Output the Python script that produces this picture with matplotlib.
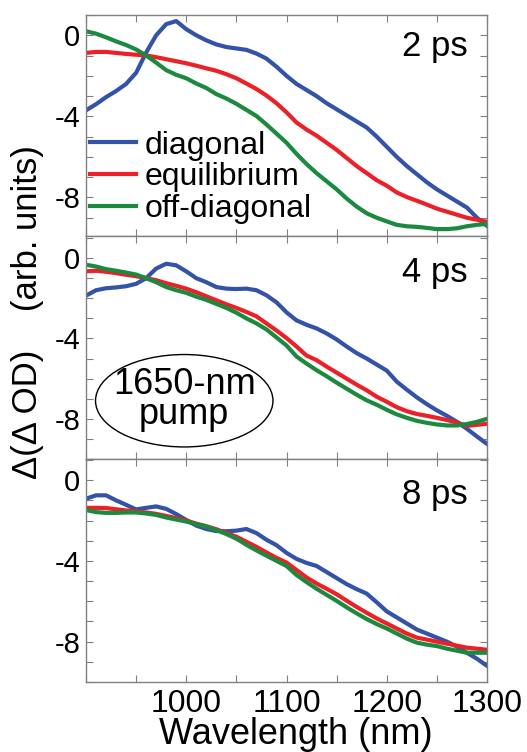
import matplotlib
matplotlib.use("Agg")
import matplotlib.pyplot as plt
from matplotlib.patches import Ellipse
from matplotlib.ticker import MultipleLocator, FuncFormatter
import numpy as np

plt.rcParams['font.family'] = ['Liberation Sans', 'DejaVu Sans']
plt.rcParams['axes.unicode_minus'] = False

wavelength = list(range(900, 1301, 10))

diag_2ps = [-3.7, -3.4, -3.05, -2.75, -2.4, -1.85, -0.85, 0.0, 0.55, 0.7, 0.3, 0.0, -0.25, -0.45,
            -0.58, -0.65, -0.72, -0.9, -1.15, -1.55, -2.0, -2.4, -2.7, -3.0, -3.35, -3.65, -3.95,
            -4.25, -4.55, -5.0, -5.5, -6.0, -6.45, -6.85, -7.25, -7.6, -7.9, -8.2, -8.5, -9.0, -9.4]
equil_2ps = [-0.87, -0.82, -0.82, -0.87, -0.92, -0.96, -1.0, -1.08, -1.18, -1.28, -1.38, -1.5, -1.63,
             -1.75, -1.92, -2.12, -2.38, -2.65, -2.97, -3.35, -3.8, -4.3, -4.65, -4.95, -5.3, -5.65,
             -6.05, -6.45, -6.8, -7.15, -7.42, -7.75, -7.98, -8.16, -8.35, -8.55, -8.7, -8.85, -9.0,
             -9.1, -9.2]
off_2ps = [0.2, 0.08, -0.1, -0.3, -0.48, -0.7, -1.0, -1.35, -1.72, -1.95, -2.12, -2.38, -2.6, -2.9,
           -3.12, -3.38, -3.68, -3.98, -4.4, -4.85, -5.3, -5.85, -6.35, -6.8, -7.2, -7.6, -8.05, -8.45,
           -8.78, -9.0, -9.18, -9.35, -9.42, -9.45, -9.5, -9.56, -9.56, -9.52, -9.42, -9.35, -9.3]

diag_4ps = [-1.87, -1.6, -1.5, -1.46, -1.4, -1.28, -1.0, -0.52, -0.28, -0.36, -0.66, -1.0, -1.2, -1.44,
            -1.52, -1.54, -1.52, -1.6, -1.85, -2.2, -2.7, -3.1, -3.32, -3.5, -3.75, -4.05, -4.4, -4.73,
            -5.0, -5.3, -5.6, -6.15, -6.55, -6.93, -7.27, -7.58, -7.85, -8.15, -8.5, -8.88, -9.25]
equil_4ps = [-0.66, -0.63, -0.68, -0.75, -0.83, -0.9, -1.0, -1.1, -1.25, -1.38, -1.52, -1.7, -1.9, -2.1,
             -2.3, -2.48, -2.68, -2.9, -3.25, -3.6, -3.98, -4.4, -4.85, -5.08, -5.4, -5.7, -6.0, -6.3,
             -6.58, -6.9, -7.15, -7.42, -7.62, -7.76, -7.85, -7.95, -8.06, -8.18, -8.35, -8.3, -8.25]
off_4ps = [-0.33, -0.42, -0.55, -0.63, -0.72, -0.82, -1.0, -1.2, -1.44, -1.6, -1.73, -1.92, -2.08, -2.28,
           -2.48, -2.72, -3.0, -3.25, -3.55, -3.95, -4.35, -4.9, -5.25, -5.58, -5.88, -6.2, -6.5, -6.8,
           -7.08, -7.3, -7.55, -7.78, -7.95, -8.1, -8.2, -8.28, -8.33, -8.33, -8.26, -8.15, -8.0]

diag_8ps = [-0.92, -0.75, -0.75, -1.0, -1.22, -1.45, -1.37, -1.3, -1.42, -1.68, -1.97, -2.25, -2.42, -2.52,
            -2.53, -2.5, -2.42, -2.62, -2.95, -3.22, -3.6, -3.9, -4.1, -4.25, -4.55, -4.85, -5.15, -5.4,
            -5.62, -6.05, -6.5, -6.8, -7.1, -7.4, -7.6, -7.8, -8.0, -8.25, -8.55, -8.85, -9.2]
equil_8ps = [-1.37, -1.37, -1.38, -1.44, -1.5, -1.54, -1.6, -1.67, -1.77, -1.88, -2.0, -2.15, -2.28, -2.43,
             -2.62, -2.8, -3.05, -3.3, -3.58, -3.85, -4.08, -4.45, -4.82, -5.12, -5.38, -5.65, -5.97, -6.28,
             -6.57, -6.85, -7.1, -7.35, -7.6, -7.8, -7.9, -8.0, -8.1, -8.2, -8.3, -8.35, -8.4]
off_8ps = [-1.48, -1.58, -1.62, -1.62, -1.6, -1.6, -1.65, -1.72, -1.85, -1.95, -2.05, -2.18, -2.3, -2.47,
           -2.67, -2.9, -3.2, -3.48, -3.74, -4.0, -4.25, -4.7, -5.05, -5.38, -5.68, -5.98, -6.3, -6.6,
           -6.88, -7.13, -7.35, -7.6, -7.85, -8.05, -8.15, -8.22, -8.35, -8.45, -8.55, -8.55, -8.55]

series_labels = ['diagonal', 'equilibrium', 'off-diagonal']
panel_labels = ['2 ps', '4 ps', '8 ps']
panels = [(diag_2ps, equil_2ps, off_2ps), (diag_4ps, equil_4ps, off_4ps), (diag_8ps, equil_8ps, off_8ps)]
colors = ['#3352a8', '#ec2027', '#1b8a3f']
ylims = [(-9.9, 1.0), (-10.0, 1.1), (-10.0, 1.05)]
ylabeled = [0, -4, -8]
xlabeled = [1000, 1100, 1200, 1300]

W, H = 527, 752
fig = plt.figure(figsize=(W / 100, H / 100), dpi=100)

def fx(p):
    return p / W

def fy(p):
    return 1 - p / H

boxes = [(15, 236), (236, 459), (459, 682)]
left, right = 86, 487
axes = []
for i, (t, b) in enumerate(boxes):
    ax = fig.add_axes([fx(left), fy(b), fx(right - left), (b - t) / H])
    axes.append(ax)
    for ys, c, lab in zip(panels[i], colors, series_labels):
        ax.plot(wavelength, ys, color=c, lw=3.0, label=lab, solid_joinstyle='round')
    ax.set_xlim(900, 1300)
    ax.set_ylim(*ylims[i])
    ax.xaxis.set_major_locator(MultipleLocator(50))
    ax.yaxis.set_major_locator(MultipleLocator(1))
    ax.yaxis.set_major_formatter(FuncFormatter(lambda v, p: f"{int(round(v))}" if int(round(v)) in ylabeled else ""))
    if i == 2:
        ax.xaxis.set_major_formatter(FuncFormatter(lambda v, p: f"{int(round(v))}" if int(round(v)) in xlabeled else ""))
    else:
        ax.xaxis.set_major_formatter(FuncFormatter(lambda v, p: ""))
    ax.tick_params(direction='in', length=5, width=0.8, color='#808080',
                   top=True, right=True, labelsize=21, pad=4)
    ax.tick_params(axis='x', labelsize=23, pad=5)
    for s in ax.spines.values():
        s.set_color('#808080')
        s.set_linewidth(1.0)
    ax.text(1281, -1.0 if i == 0 else -1.19, panel_labels[i], ha='right', va='baseline', fontsize=25)

axes[0].legend(loc='center left', bbox_to_anchor=(0.01, 0.265), frameon=False, fontsize=23,
               handlelength=1.45, handletextpad=0.25, labelspacing=0.06, borderpad=0, borderaxespad=0)

axm = axes[1]
axm.add_patch(Ellipse((998, -7.1), 177, 4.6, fill=False, edgecolor='black', lw=1.0))
axm.text(998, -7.05, '1650-nm\npump', ha='center', va='center', multialignment='center',
         fontsize=26, linespacing=0.8)

fig.text(fx(28), fy(312), 'Δ(Δ OD)    (arb. units)', rotation=90, ha='center', va='center', fontsize=25)
fig.text(fx(296), fy(744), 'Wavelength (nm)', ha='center', va='baseline', fontsize=26)

fig.savefig('out.png', dpi=100)
